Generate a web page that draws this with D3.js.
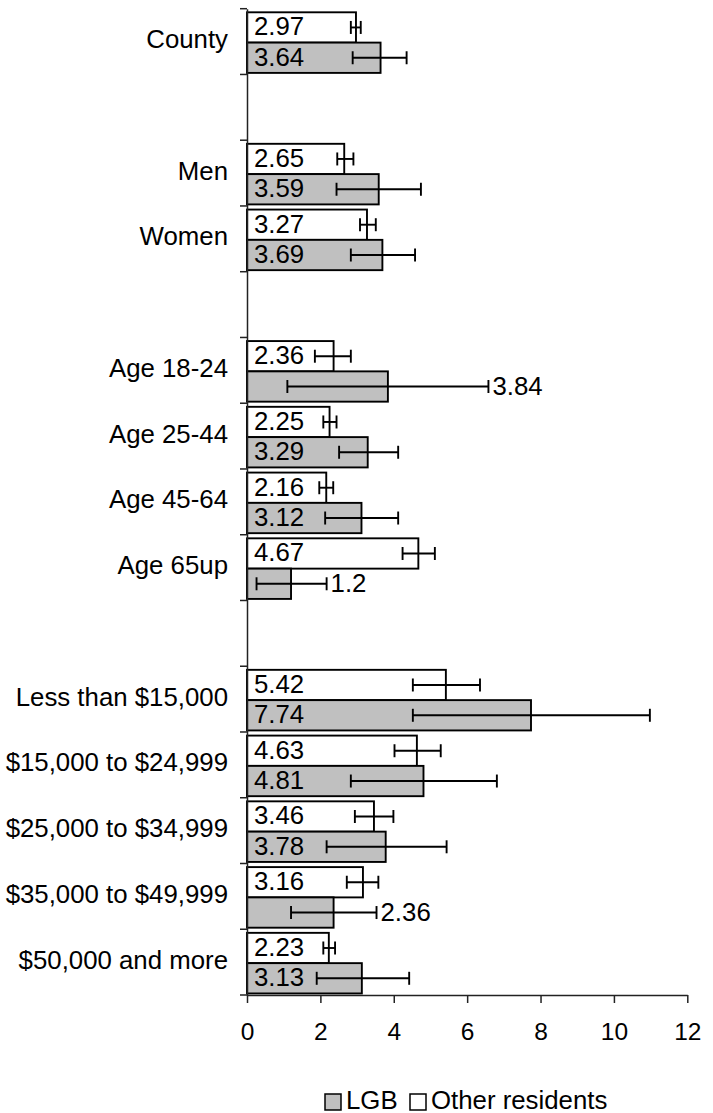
<!DOCTYPE html>
<html>
<head>
<meta charset="utf-8">
<script src="https://cdn.jsdelivr.net/npm/d3@7"></script>
<style>
  html, body { margin: 0; padding: 0; background: #fff; }
  svg { display: block; font-family: "Liberation Sans", Arial, sans-serif; }
</style>
</head>
<body>
<svg id="chart" width="713" height="1113"></svg>
<script>
// Row labels (blank rows separate the groups)
const categories = [
  "County", "", "Men", "Women", "",
  "Age 18-24", "Age 25-44", "Age 45-64", "Age 65up", "",
  "Less than $15,000", "$15,000 to $24,999", "$25,000 to $34,999",
  "$35,000 to $49,999", "$50,000 and more"
];

// Other residents: value and confidence interval
const otherValues = [2.97, null, 2.65, 3.27, null, 2.36, 2.25, 2.16, 4.67, null, 5.42, 4.63, 3.46, 3.16, 2.23];
const otherLow    = [2.83, null, 2.46, 3.08, null, 1.85, 2.08, 1.97, 4.24, null, 4.52, 4.02, 2.94, 2.72, 2.08];
const otherHigh   = [3.10, null, 2.90, 3.51, null, 2.83, 2.44, 2.35, 5.12, null, 6.35, 5.28, 3.99, 3.58, 2.40];

// LGB: value and confidence interval
const lgbValues = [3.64, null, 3.59, 3.69, null, 3.84, 3.29, 3.12, 1.2, null, 7.74, 4.81, 3.78, 2.36, 3.13];
const lgbLow    = [2.88, null, 2.44, 2.83, null, 1.10, 2.51, 2.13, 0.26, null, 4.52, 2.83, 2.17, 1.20, 1.90];
const lgbHigh   = [4.35, null, 4.74, 4.58, null, 6.58, 4.12, 4.12, 2.17, null, 10.98, 6.81, 5.44, 3.53, 4.42];

// LGB labels drawn past the error bar instead of inside the bar
const lgbLabelOutside = [false, false, false, false, false, true, false, false, true, false, false, false, false, true, false];

const xTicks = [0, 2, 4, 6, 8, 10, 12];
const seriesNames = ["LGB", "Other residents"];
const seriesFill = { "LGB": "#c0c0c0", "Other residents": "#ffffff" };

const svg = d3.select("#chart");

const x = d3.scaleLinear().domain([0, 12]).range([247, 687.3]);
const y = d3.scaleBand().domain(d3.range(categories.length)).range([8.7, 995]).padding(0);

const barH = 30.3;
const barOff = 3.6;
const capH = 6.5;
const labelSize = 25.8;

// Build the drawable rows from the arrays
const rows = [];
categories.forEach((c, i) => {
  if (otherValues[i] == null) return;
  rows.push({ i, series: "Other residents", v: otherValues[i], lo: otherLow[i], hi: otherHigh[i], out: false, slot: 0 });
  rows.push({ i, series: "LGB", v: lgbValues[i], lo: lgbLow[i], hi: lgbHigh[i], out: lgbLabelOutside[i], slot: 1 });
});
const barTop = d => y(d.i) + barOff + d.slot * barH;
const barMid = d => barTop(d) + barH / 2;

// Bars
svg.append("g").selectAll("rect").data(rows).join("rect")
  .attr("x", x(0))
  .attr("y", barTop)
  .attr("width", d => x(d.v) - x(0))
  .attr("height", barH)
  .attr("fill", d => seriesFill[d.series])
  .attr("stroke", "#000")
  .attr("stroke-width", 1.9);

// Error bars
const eb = svg.append("g").attr("stroke", "#000").attr("stroke-width", 1.9);
eb.selectAll("line.h").data(rows).join("line").attr("class", "h")
  .attr("x1", d => x(d.lo)).attr("x2", d => x(d.hi))
  .attr("y1", barMid).attr("y2", barMid);
eb.selectAll("line.l").data(rows).join("line").attr("class", "l")
  .attr("x1", d => x(d.lo)).attr("x2", d => x(d.lo))
  .attr("y1", d => barMid(d) - capH).attr("y2", d => barMid(d) + capH);
eb.selectAll("line.r").data(rows).join("line").attr("class", "r")
  .attr("x1", d => x(d.hi)).attr("x2", d => x(d.hi))
  .attr("y1", d => barMid(d) - capH).attr("y2", d => barMid(d) + capH);

// Value labels
svg.append("g").selectAll("text").data(rows).join("text")
  .attr("x", d => d.out ? x(d.hi) + 4 : x(0) + 7)
  .attr("y", d => barMid(d) + 8)
  .attr("font-size", labelSize)
  .attr("fill", "#000")
  .text(d => d.v);

// Y axis
const yAxis = d3.axisLeft(y).tickSize(0).tickFormat("");
const gy = svg.append("g").attr("transform", `translate(${x(0)},0)`).call(yAxis);
gy.select(".domain").attr("stroke", "#222").attr("stroke-width", 1.5);
// tick marks at row boundaries
const boundaries = d3.range(categories.length + 1).map(k => k < categories.length ? y(k) : y.range()[1]);
gy.selectAll("line.bnd").data(boundaries).join("line").attr("class", "bnd")
  .attr("x1", -7).attr("x2", 0)
  .attr("y1", d => d).attr("y2", d => d)
  .attr("stroke", "#222").attr("stroke-width", 1.5);

// Category labels
svg.append("g").selectAll("text").data(categories).join("text")
  .attr("x", 228)
  .attr("y", (d, i) => y(i) + y.bandwidth() / 2 + 6.5)
  .attr("text-anchor", "end")
  .attr("font-size", labelSize)
  .attr("fill", "#000")
  .text(d => d);

// X axis
const xAxis = d3.axisBottom(x).tickValues(xTicks).tickSize(8).tickPadding(20).tickSizeOuter(0);
const gx = svg.append("g").attr("transform", `translate(0,${y.range()[1]})`).call(xAxis);
gx.select(".domain").attr("stroke", "#222").attr("stroke-width", 1.5);
gx.selectAll(".tick line").attr("stroke", "#222").attr("stroke-width", 1.5);
gx.selectAll(".tick text")
  .attr("font-size", 24.5)
  .attr("font-family", "Liberation Sans, Arial, sans-serif")
  .attr("fill", "#000");

// Legend
const legend = svg.append("g").attr("transform", "translate(325,1094)");
const legendX = { "LGB": 0, "Other residents": 85 };
seriesNames.forEach(name => {
  const g = legend.append("g").attr("transform", `translate(${legendX[name]},0)`);
  g.append("rect").attr("width", 16).attr("height", 16)
    .attr("fill", seriesFill[name]).attr("stroke", "#000").attr("stroke-width", 1.5);
  g.append("text").attr("x", 21).attr("y", 14.5)
    .attr("font-size", labelSize).attr("fill", "#000").text(name);
});
</script>
</body>
</html>
